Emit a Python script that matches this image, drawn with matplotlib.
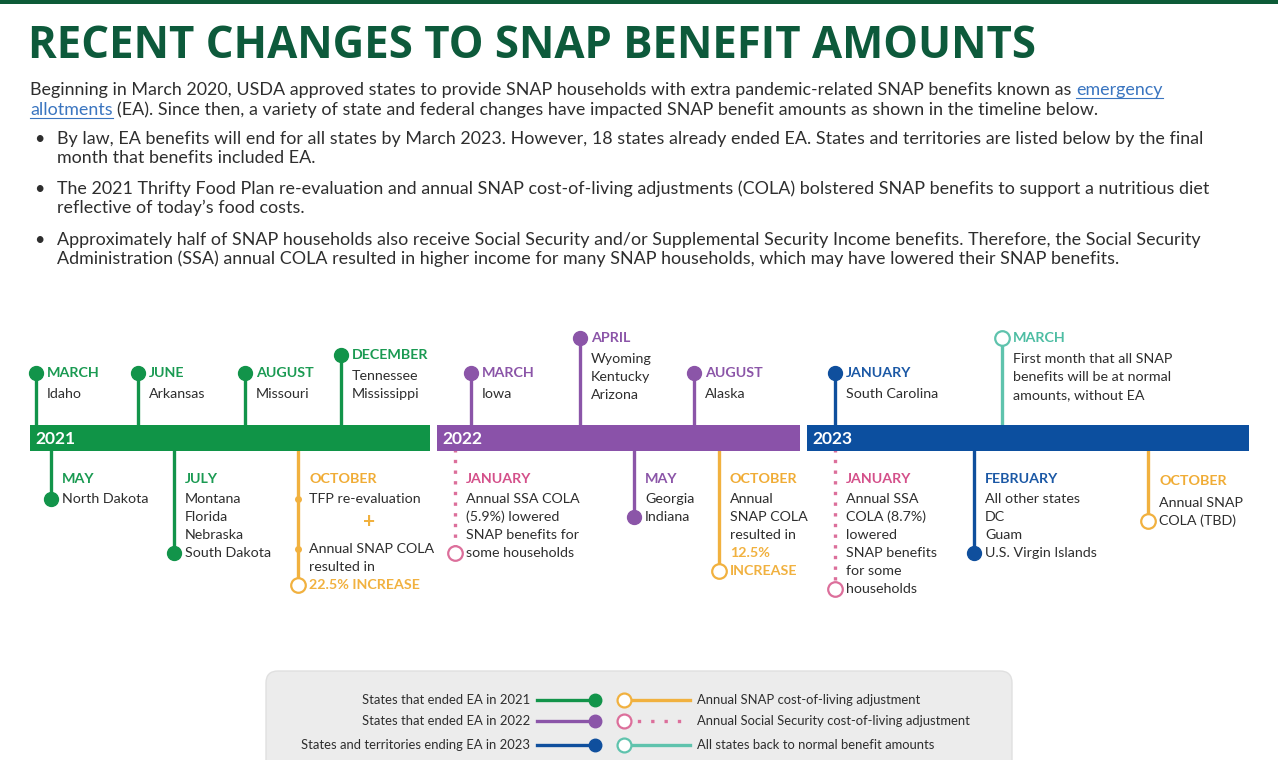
import matplotlib
matplotlib.use("Agg")
import matplotlib.pyplot as plt
from matplotlib.patches import Rectangle, FancyBboxPatch

# ---------------- content ----------------
title = "RECENT CHANGES TO SNAP BENEFIT AMOUNTS"
intro_lines = [
    "Beginning in March 2020, USDA approved states to provide SNAP households with extra pandemic-related SNAP benefits known as ",
    "(EA). Since then, a variety of state and federal changes have impacted SNAP benefit amounts as shown in the timeline below.",
]
intro_link = ["emergency", "allotments"]
bullets = [
    ["By law, EA benefits will end for all states by March 2023. However, 18 states already ended EA. States and territories are listed below by the final",
     "month that benefits included EA."],
    ["The 2021 Thrifty Food Plan re-evaluation and annual SNAP cost-of-living adjustments (COLA) bolstered SNAP benefits to support a nutritious diet",
     "reflective of today\u2019s food costs."],
    ["Approximately half of SNAP households also receive Social Security and/or Supplemental Security Income benefits. Therefore, the Social Security",
     "Administration (SSA) annual COLA resulted in higher income for many SNAP households, which may have lowered their SNAP benefits."],
]

years = ["2021", "2022", "2023"]

# events: (year, month, category, side, text lines)  '*' prefix = highlighted line
events = [
    ("2021", "MARCH", "ea2021", "up", ["Idaho"]),
    ("2021", "JUNE", "ea2021", "up", ["Arkansas"]),
    ("2021", "AUGUST", "ea2021", "up", ["Missouri"]),
    ("2021", "DECEMBER", "ea2021", "up", ["Tennessee", "Mississippi"]),
    ("2021", "MAY", "ea2021", "down", ["North Dakota"]),
    ("2021", "JULY", "ea2021", "down", ["Montana", "Florida", "Nebraska", "South Dakota"]),
    ("2021", "OCTOBER", "snap_cola", "down", ["TFP re-evaluation", "+", "Annual SNAP COLA", "resulted in", "*22.5% INCREASE"]),
    ("2022", "MARCH", "ea2022", "up", ["Iowa"]),
    ("2022", "APRIL", "ea2022", "up", ["Wyoming", "Kentucky", "Arizona"]),
    ("2022", "AUGUST", "ea2022", "up", ["Alaska"]),
    ("2022", "JANUARY", "ssa_cola", "down", ["Annual SSA COLA", "(5.9%) lowered", "SNAP benefits for", "some households"]),
    ("2022", "MAY", "ea2022", "down", ["Georgia", "Indiana"]),
    ("2022", "OCTOBER", "snap_cola", "down", ["Annual", "SNAP COLA", "resulted in", "*12.5%", "*INCREASE"]),
    ("2023", "JANUARY", "ea2023", "up", ["South Carolina"]),
    ("2023", "MARCH", "normal", "up", ["First month that all SNAP", "benefits will be at normal", "amounts, without EA"]),
    ("2023", "JANUARY", "ssa_cola", "down", ["Annual SSA", "COLA (8.7%)", "lowered", "SNAP benefits", "for some", "households"]),
    ("2023", "FEBRUARY", "ea2023", "down", ["All other states", "DC", "Guam", "U.S. Virgin Islands"]),
    ("2023", "OCTOBER", "snap_cola", "down", ["Annual SNAP", "COLA (TBD)"]),
]

legend_left = [("States that ended EA in 2021", "ea2021"),
               ("States that ended EA in 2022", "ea2022"),
               ("States and territories ending EA in 2023", "ea2023")]
legend_right = [("Annual SNAP cost-of-living adjustment", "snap_cola"),
                ("Annual Social Security cost-of-living adjustment", "ssa_cola"),
                ("All states back to normal benefit amounts", "normal")]

# ---------------- layout / style ----------------
W, H = 1278, 760
FONT = ["Lato", "DejaVu Sans"]
TITLE_FONT = ["Open Sans", "DejaVu Sans"]
TXT = "#2e2e2e"
cols = {"ea2021": "#12944a", "ea2022": "#8b55a8", "ea2023": "#0f4f9d",
        "snap_cola": "#f1b13f", "ssa_cola": "#dc6f9b", "normal": "#5fc3ad"}
label_cols = {"ea2021": "#1a9a52", "ea2022": "#8b55a8", "ea2023": "#1b58a5",
              "snap_cola": "#f0ac35", "ssa_cola": "#d4508a", "normal": "#4dbda3"}
bar_cols = {"2021": "#109447", "2022": "#8a52a9", "2023": "#0c4f9f"}
bar_x = {"2021": (30, 430), "2022": (437, 800), "2023": (807, 1249)}
bar_top, bar_bot = 425, 451
event_x = [36, 138, 245, 341, 51, 174, 298, 471, 580, 694, 455, 634, 719, 835, 1002, 835, 974, 1148]
up_label_y = [373, 373, 373, 355, 0, 0, 0, 373, 338, 373, 0, 0, 0, 373, 338, 0, 0, 0]
down_label_y = 479

fig = plt.figure(figsize=(W / 100, H / 100), dpi=100)
ax = fig.add_axes([0, 0, 1, 1])
ax.set_xlim(0, W)
ax.set_ylim(H, 0)
ax.axis("off")
R = fig.canvas.get_renderer()


def wpx(t):
    return t.get_window_extent(renderer=R).width


def fit(x, y, s, width, **kw):
    t = ax.text(x, y, s, fontsize=10, va="center", **kw)
    w = wpx(t)
    t.set_fontsize(10 * width / w)
    return t


# top band
ax.add_patch(Rectangle((0, 0), W, 4, color="#0d5b37", lw=0))

# title
fit(28, 47, title, 1007, family=TITLE_FONT, weight="bold", color="#0d5a3b")

# intro
t1 = ax.text(30, 90, intro_lines[0], fontsize=10, va="center", family=FONT, color=TXT)
tl = ax.text(0, 90, intro_link[0], fontsize=10, va="center", family=FONT, color="#3a75c0")
scale = (1165 - 30) / (wpx(t1) + wpx(tl))
BODY = 10 * scale
t1.set_fontsize(BODY)
tl.set_fontsize(BODY)
xl = 30 + wpx(t1)
tl.set_x(xl)
ax.plot([xl, xl + wpx(tl)], [98, 98], color="#3a75c0", lw=0.8)
tl2 = ax.text(30, 110, intro_link[1], fontsize=BODY, va="center", family=FONT, color="#3a75c0")
w2 = wpx(tl2)
ax.plot([30, 30 + w2], [118, 118], color="#3a75c0", lw=0.8)
ax.text(30 + w2 + 4, 110, intro_lines[1], fontsize=BODY, va="center", family=FONT, color=TXT)

by = [139, 189, 240]
for y0, lines in zip(by, bullets):
    ax.text(34, y0, "\u2022", fontsize=BODY, va="center", family=FONT, color=TXT)
    for k, ln in enumerate(lines):
        ax.text(57, y0 + 19 * k, ln, fontsize=BODY, va="center", family=FONT, color=TXT)

# timeline bars
yc = (bar_top + bar_bot) / 2
for yr in years:
    x0, x1 = bar_x[yr]
    ax.add_patch(Rectangle((x0, bar_top), x1 - x0, bar_bot - bar_top, color=bar_cols[yr], lw=0, zorder=3))
    ax.text(x0 + 5, yc + 1, yr, fontsize=12.5, weight="bold", color="white", va="center",
            family=FONT, zorder=4)

MS = 10.5
LBL = 10.3
TS = 10.3
for i, (yr, month, cat, side, lines) in enumerate(events):
    x = event_x[i]
    c = cols[cat]
    open_m = cat in ("snap_cola", "ssa_cola", "normal")
    ls = (0, (1, 2.2)) if cat == "ssa_cola" else "-"
    tx = x + 11
    if side == "up":
        ly = up_label_y[i]
        ys = [ly + 21 + 18 * k for k in range(len(lines))]
        my = ly
        ax.plot([x, x], [my, yc], color=c, lw=2.4, ls=ls, zorder=2)
    else:
        ly = down_label_y + (2 if (cat == "snap_cola" and yr == "2023") else 0)
        ys = []
        yy = ly + 20 + (2 if (cat == "snap_cola" and yr == "2023") else 0)
        for k, ln in enumerate(lines):
            if ln == "+":
                yy += 5
            ys.append(yy)
            yy += 27 if ln == "+" else 18
        my = ys[-1]
        ax.plot([x, x], [yc, my], color=c, lw=2.4, ls=ls, zorder=2)
    if open_m:
        ax.plot(x, my, "o", ms=MS, mfc="white", mec=c, mew=1.6, zorder=5)
    else:
        ax.plot(x, my, "o", ms=MS - 0.5, color=c, zorder=5)
    ax.text(tx, ly, month, fontsize=LBL, weight="bold", color=label_cols[cat],
            va="center", family=FONT)
    for ln, y in zip(lines, ys):
        if ln == "+":
            ax.text(tx + 60, y, "+", fontsize=15, weight="bold", color=c, va="center",
                    ha="center", family=FONT)
            continue
        if ln.startswith("*"):
            ax.text(tx, y, ln[1:], fontsize=TS, weight="bold", color=c, va="center", family=FONT)
        else:
            ax.text(tx, y, ln, fontsize=TS, color=TXT, va="center", family=FONT)
    if yr == "2021" and cat == "snap_cola":
        for y in (ys[0], ys[2]):
            ax.plot(x, y, "o", ms=4, color=c, zorder=5)

# legend box
ax.add_patch(FancyBboxPatch((266, 671), 746, 110, boxstyle="round,pad=0,rounding_size=12",
                            fc="#ececec", ec="#e0e0e0", lw=1, zorder=1))
leg_y = [700, 721, 745]
LEGS = 9.4
for (txt, cat), y in zip(legend_left, leg_y):
    ax.text(530, y, txt, fontsize=LEGS, ha="right", va="center", family=FONT, color=TXT, zorder=3)
    ax.plot([537, 595], [y, y], color=cols[cat], lw=2.4, zorder=3)
    ax.plot(595, y, "o", ms=9, color=cols[cat], zorder=4)
for (txt, cat), y in zip(legend_right, leg_y):
    ls = (0, (1, 3)) if cat == "ssa_cola" else "-"
    ax.plot([624, 690], [y, y], color=cols[cat], lw=2.4, ls=ls, zorder=3)
    ax.plot(624, y, "o", ms=10, mfc="white", mec=cols[cat], mew=1.6, zorder=4)
    ax.text(697, y, txt, fontsize=LEGS, ha="left", va="center", family=FONT, color=TXT, zorder=3)

fig.savefig("out.png", dpi=100, facecolor="white")
